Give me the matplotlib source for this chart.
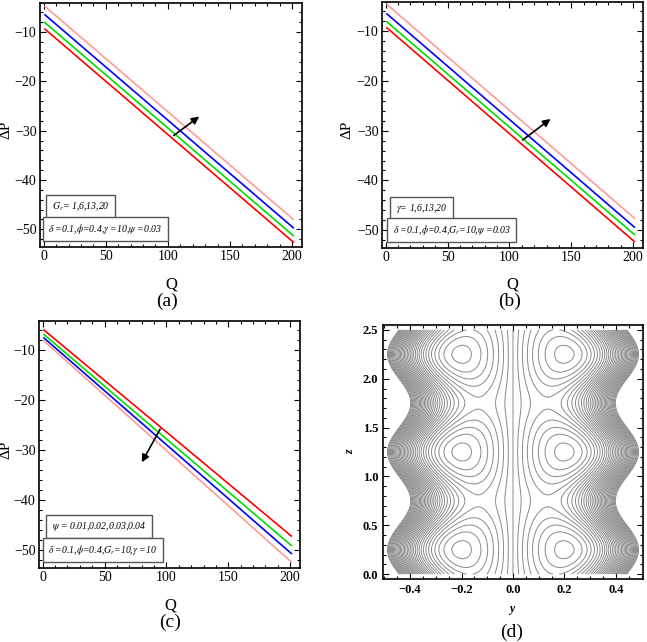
import numpy as np
import matplotlib.pyplot as plt
from matplotlib.ticker import MultipleLocator

plt.rcParams['font.family'] = ['Liberation Serif', 'DejaVu Serif']
plt.rcParams['mathtext.fontset'] = 'stix'
plt.rcParams['contour.negative_linestyle'] = 'solid'

# datos (valor inicial y final de cada recta)
q = [1, 201]
a_red = [-9.4, -52.6]
a_green = [-8.1, -51.3]
a_blue = [-6.5, -49.7]
a_pink = [-4.8, -48.0]
b_red = [-9.3, -52.3]
b_green = [-8.1, -50.9]
b_blue = [-6.5, -49.4]
b_pink = [-4.6, -47.6]
c_red = [-5.9, -47.2]
c_green = [-6.8, -49.1]
c_blue = [-7.5, -50.7]
c_pink = [-8.1, -52.4]
colores = ['#ff0000', '#00dd00', '#0000ff', '#ff9a9a']

flecha_a = [(103, -31.3), (127, -26.8)]
flecha_b = [(109, -32.2), (135, -27.3)]
flecha_c = [(96, -25.3), (79, -32.9)]

texto_a = [r'$G_r$= 1,6,13,20', r'$\delta$ =0.1,$\phi$=0.4,$\gamma$ =10,$\psi$ =0.03']
texto_b = [r'$\gamma$= 1,6,13,20', r'$\delta$ =0.1,$\phi$=0.4,$G_r$=10,$\psi$ =0.03']
texto_c = [r'$\psi$ = 0.01,0.02,0.03,0.04', r'$\delta$ =0.1,$\phi$=0.4,$G_r$=10,$\gamma$ =10']

# panel (d): lineas de corriente
h0 = 0.445
amp = 0.045
eta0 = 0.378
eps = 0.353
niveles = np.arange(-26, 27) * 0.05

fig = plt.figure(figsize=(6.47, 6.42), dpi=100)


def caja(l, t, r, b):
    return [l / 647, 1 - b / 642, (r - l) / 647, (b - t) / 642]


def px(x, y):
    return x / 647, 1 - y / 642


def marco(ax):
    ax.tick_params(which='both', direction='in', top=True, right=True, width=0.8)
    ax.tick_params(which='major', length=4)
    ax.tick_params(which='minor', length=2)
    for s in ax.spines.values():
        s.set_linewidth(1.2)


def panel(rect, series, flecha, textos, tx, ty):
    ax = fig.add_axes(rect)
    for vals, c in zip(series, colores):
        ax.plot(q, vals, color=c, lw=1.2)
    ax.set_xlim(-3, 208)
    ax.set_ylim(-53.6, -4.1)
    ax.xaxis.set_major_locator(MultipleLocator(50))
    ax.xaxis.set_minor_locator(MultipleLocator(10))
    ax.yaxis.set_major_locator(MultipleLocator(10))
    ax.yaxis.set_minor_locator(MultipleLocator(2))
    ax.tick_params(labelsize=10, pad=2.5)
    marco(ax)
    ax.annotate('', xy=flecha[1], xytext=flecha[0],
                arrowprops=dict(arrowstyle='-|>', color='k', lw=1.2, mutation_scale=11))
    for t, x, y in zip(textos, tx, ty):
        ax.text(x, y, t, transform=ax.transAxes, fontsize=7, style='italic', va='center', ha='left',
                bbox=dict(boxstyle='square,pad=0.55', fc='white', ec='#555555', lw=1.0))
    return ax


panel(caja(40, 3, 302, 247), [a_red, a_green, a_blue, a_pink], flecha_a, texto_a, [0.045, 0.032], [0.164, 0.074])
panel(caja(382, 2, 643, 248), [b_red, b_green, b_blue, b_pink], flecha_b, texto_b, [0.053, 0.041], [0.16, 0.073])
panel(caja(39, 321, 300, 568), [c_red, c_green, c_blue, c_pink], flecha_c, texto_c, [0.049, 0.035], [0.168, 0.073])

for x, y in [(171, 284), (512, 284), (170, 605)]:
    fig.text(*px(x, y), 'Q', fontsize=12, ha='center', va='center')
for x, y in [(6, 130), (347, 130), (6, 450)]:
    fig.text(*px(x, y), r'ΔP', fontsize=11, ha='center', va='center', rotation=90)
for x, y, t in [(167, 301, '(a)'), (510, 301, '(b)'), (170, 622, '(c)'), (512, 632, '(d)')]:
    fig.text(*px(x, y), t, fontsize=14, ha='center', va='center')

# (d)
ax = fig.add_axes(caja(383, 325, 643, 579))
eta = np.linspace(-1, 1, 401)
z = np.linspace(0, 2.5, 501)
E, Z = np.meshgrid(eta, z)
C = np.cos(2 * np.pi * (Z - 0.25))
Y = E * (h0 + amp * C)
psi = E - E ** 3 / (3 * eta0 ** 2) + eps * E * (1 - E ** 2) * C
ax.contour(Y, Z, psi, levels=niveles, colors='#8a8a8a', linewidths=0.7)
ax.set_xlim(-0.505, 0.505)
ax.set_ylim(-0.05, 2.55)
ax.xaxis.set_major_locator(MultipleLocator(0.2))
ax.xaxis.set_minor_locator(MultipleLocator(0.05))
ax.yaxis.set_major_locator(MultipleLocator(0.5))
ax.yaxis.set_minor_locator(MultipleLocator(0.1))
ax.tick_params(labelsize=9)
for lab in ax.get_xticklabels() + ax.get_yticklabels():
    lab.set_fontweight('bold')
marco(ax)
fig.text(*px(512, 609), 'y', fontsize=8.5, style='italic', weight='bold', ha='center', va='center')
fig.text(*px(350, 452), 'z', fontsize=8.5, style='italic', weight='bold', ha='center', va='center', rotation=90)

plt.savefig('out.png', dpi=100)
